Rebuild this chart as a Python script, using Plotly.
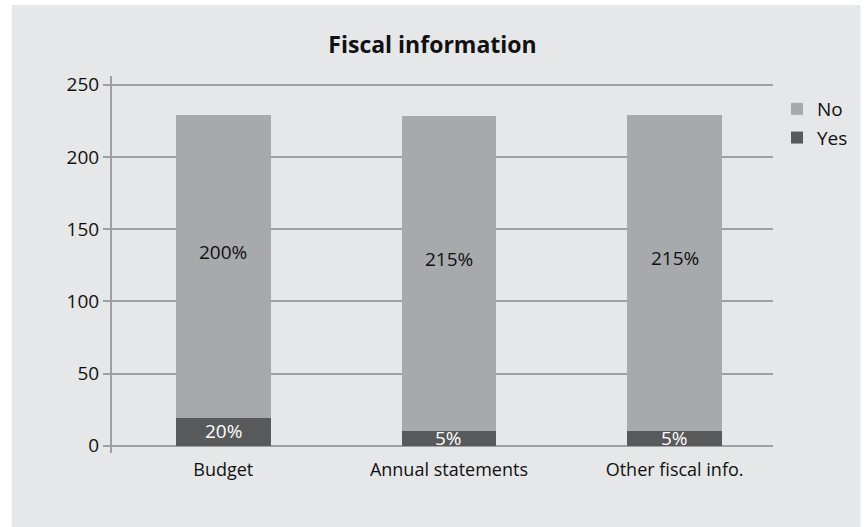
import plotly.graph_objects as go

# Data
categories = ["Budget", "Annual statements", "Other fiscal info."]
yes_values = [19, 10, 10]
no_values = [210, 218, 219]
yes_labels = ["20%", "5%", "5%"]
no_labels = ["200%", "215%", "215%"]
series_names = ["Yes", "No"]
y_ticks = [0, 50, 100, 150, 200, 250]

W, H = 865, 527
ML, MR, MT, MB = 112, 88, 76, 74
FONT = "Open Sans"

BG = "#e6e7e8"
NO_COLOR = "#a7a9ac"
YES_COLOR = "#58595b"
GRID = "#9d9fa2"
TEXT = "#111111"

fig = go.Figure()
fig.add_trace(go.Bar(
    x=categories, y=yes_values, name=series_names[0],
    marker=dict(color=YES_COLOR, line=dict(width=0)),
    width=0.42, legendgroup="yes", legendrank=2,
))
fig.add_trace(go.Bar(
    x=categories, y=no_values, name=series_names[1],
    marker=dict(color=NO_COLOR, line=dict(width=0)),
    width=0.42, legendgroup="no", legendrank=1,
))

# Segment labels
for cat, yv, nv, yl, nl in zip(categories, yes_values, no_values, yes_labels, no_labels):
    fig.add_annotation(x=cat, y=yv / 2, text=yl, showarrow=False, yshift=1,
                       font=dict(family=FONT, size=19, color="white"))
    fig.add_annotation(x=cat, y=yv + nv / 2, text=nl, showarrow=False, yshift=15,
                       font=dict(family=FONT, size=19, color=TEXT))

# Grey panel behind the whole chart, leaving a thin white strip top/left
pw, ph = W - ML - MR, H - MT - MB
fig.add_shape(type="rect", xref="paper", yref="paper", layer="below",
              x0=(11 - ML) / pw, x1=(W - ML) / pw,
              y0=-(MB) / ph, y1=(H - 5 - MB) / ph,
              fillcolor=BG, line=dict(width=0))

fig.update_layout(
    width=W, height=H,
    margin=dict(l=ML, r=MR, t=MT, b=MB),
    barmode="stack",
    paper_bgcolor="white",
    plot_bgcolor="rgba(0,0,0,0)",
    font=dict(family=FONT, size=19, color=TEXT),
    title=dict(text="<b>Fiscal information</b>", x=0.5, xref="container",
               y=1 - 45 / H, yref="container", xanchor="center", yanchor="middle",
               font=dict(family=FONT, size=23, color=TEXT)),
    legend=dict(x=(781 - ML) / pw, y=(H - MB - 90) / ph,
                xref="paper", yref="paper", xanchor="left", yanchor="top",
                traceorder="grouped", tracegroupgap=1,
                bgcolor="rgba(0,0,0,0)", font=dict(family=FONT, size=19, color=TEXT)),
    xaxis=dict(range=[-0.493, 2.436], showgrid=False, showline=False, ticks="",
               ticklabelstandoff=4,
               tickfont=dict(family=FONT, size=18, color=TEXT), zeroline=False),
    yaxis=dict(range=[-5, 256], tickvals=y_ticks, showgrid=True, gridcolor=GRID, gridwidth=2,
               showline=True, linecolor=GRID, linewidth=2, ticks="outside", ticklen=7,
               tickcolor=GRID, tickwidth=2, zeroline=False,
               tickfont=dict(family=FONT, size=19, color=TEXT)),
    showlegend=True,
)

fig.write_html("out.html")
